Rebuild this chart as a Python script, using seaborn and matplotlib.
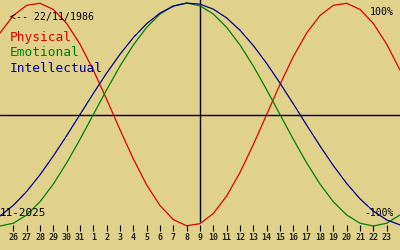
import matplotlib
matplotlib.use("Agg")
import matplotlib.pyplot as plt
import seaborn as sns
import pandas as pd

# ---- data ----
day_labels = ["26", "27", "28", "29", "30", "31", "1", "2", "3", "4", "5", "6", "7",
              "8", "9", "10", "11", "12", "13", "14", "15", "16", "17", "18", "19",
              "20", "21", "22", "23"]
# curve sample positions (day index, 0 = 26 Oct), one extra day each side
day_index = list(range(-1, 30))
physical = [0.7308, 0.8879, 0.9791, 0.9977, 0.9423, 0.8170, 0.6311, 0.3984, 0.1362,
            -0.1362, -0.3984, -0.6311, -0.8170, -0.9423, -0.9977, -0.9791, -0.8879,
            -0.7308, -0.5196, -0.2698, 0.0, 0.2698, 0.5196, 0.7308, 0.8879, 0.9791,
            0.9977, 0.9423, 0.8170, 0.6311, 0.3984]
emotional = [-1.0, -0.9749, -0.9010, -0.7818, -0.6235, -0.4339, -0.2225, 0.0, 0.2225,
             0.4339, 0.6235, 0.7818, 0.9010, 0.9749, 1.0, 0.9749, 0.9010, 0.7818,
             0.6235, 0.4339, 0.2225, 0.0, -0.2225, -0.4339, -0.6235, -0.7818, -0.9010,
             -0.9749, -1.0, -0.9749, -0.9010]
intellectual = [-0.9096, -0.8146, -0.6901, -0.5406, -0.3717, -0.1893, 0.0, 0.1893,
                0.3717, 0.5406, 0.6901, 0.8146, 0.9096, 0.9718, 0.9989, 0.9898, 0.9450,
                0.8660, 0.7557, 0.6182, 0.4582, 0.2817, 0.0951, -0.0951, -0.2817,
                -0.4582, -0.6182, -0.7557, -0.8660, -0.9450, -0.9898]
series_names = ["Physical", "Emotional", "Intellectual"]
birth_text = "<-- 22/11/1986"
month_text = "11-2025"
today_index = 14

# ---- style ----
BG = "#e0d28a"
colors = {"Physical": "#dd0000", "Emotional": "#008000", "Intellectual": "#000090"}
MONO = ["DejaVu Sans Mono"]

sns.set_theme(style="white")
plt.rcParams["font.family"] = MONO

df = pd.DataFrame({
    "x": day_index * 3,
    "value": physical + emotional + intellectual,
    "series": sum([[n] * len(day_index) for n in series_names], []),
})

fig = plt.figure(figsize=(4, 2.5), dpi=100, facecolor=BG)
ax = fig.add_axes([0, 0, 1, 1], facecolor=BG)

sns.lineplot(data=df, x="x", y="value", hue="series", hue_order=series_names,
             palette=colors, legend=False, ax=ax, linewidth=0.9)

ax.set_xlim(-1.0, 29.0)
ax.set_ylim(-1.215, 1.027)

ax.axhline(0, color="black", lw=1.0, zorder=1)
ax.vlines(today_index, -0.964, 1.1, color="black", lw=1.0, zorder=1)

for s in ["top", "right", "left"]:
    ax.spines[s].set_visible(False)
ax.spines["bottom"].set_position(("data", -0.991))
ax.spines["bottom"].set_visible(False)
ax.set_xticks(range(len(day_labels)))
ax.set_xticklabels(day_labels)
ax.set_yticks([])
ax.set_xlabel("")
ax.set_ylabel("")
ax.tick_params(axis="x", direction="out", length=4.3, width=0.8, color="black",
               pad=1.8, labelsize=6, bottom=True)
for lbl in ax.get_xticklabels():
    lbl.set_fontweight("bold")
    lbl.set_family(MONO)

def px(x, y):
    return x / 400, 1 - y / 250

fig.text(*px(10, 17), birth_text, fontsize=7.1, color="black", va="center", ha="left")
for name, yy in zip(series_names, [38, 53, 68]):
    fig.text(*px(10, yy), name, fontsize=9.3, color=colors[name], va="center", ha="left")
fig.text(*px(394, 12), "100%", fontsize=7.2, color="black", va="center", ha="right")
fig.text(*px(0, 213), month_text, fontsize=7.9, color="black", va="center", ha="left")
fig.text(*px(394, 213), "-100%", fontsize=7.0, color="black", va="center", ha="right")

fig.savefig("out.png", dpi=100, facecolor=BG)
